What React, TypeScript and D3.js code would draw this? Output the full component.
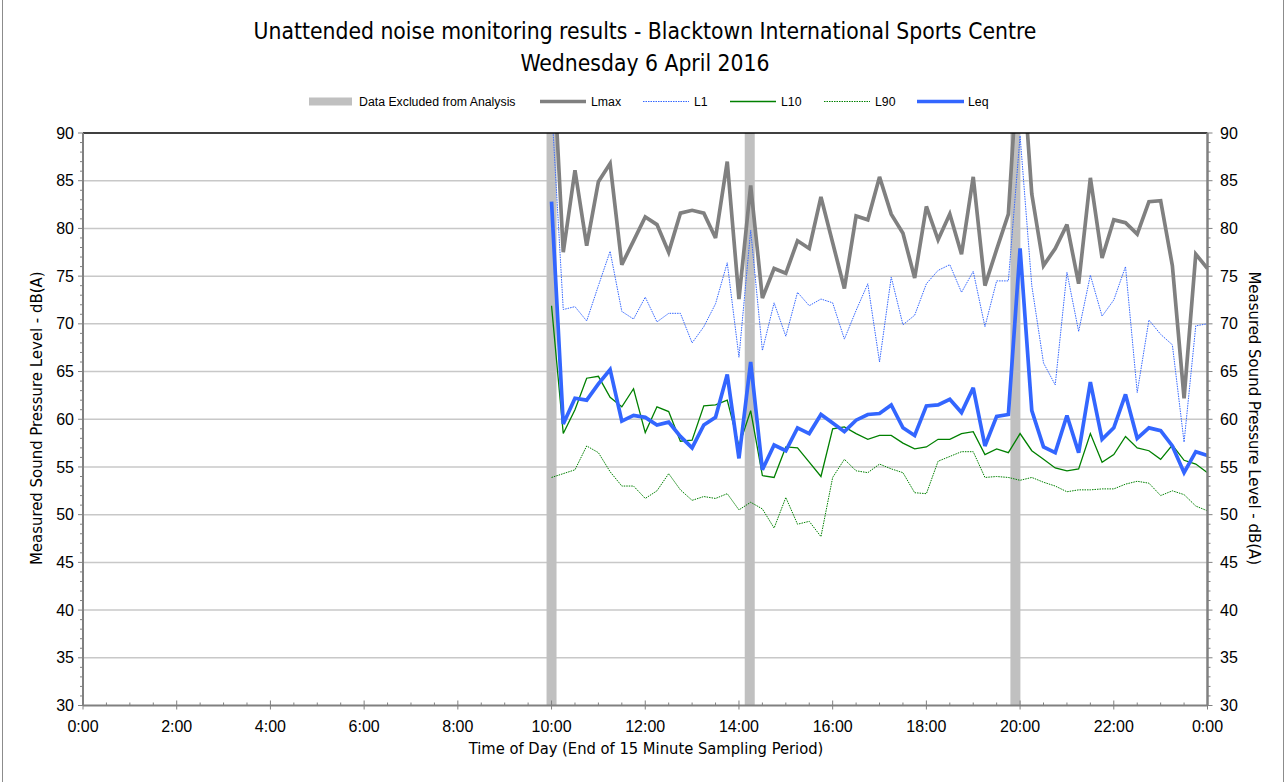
import React from "react";
import * as d3 from "d3";

const startHour = 10;
const stepHours = 0.25;

const lmax = [101, 77.5, 86.1, 78.2, 84.9, 86.8, 76.2, 78.7, 81.2, 80.4, 77.5, 81.6, 81.9, 81.6, 79.0, 87.0, 72.6, 84.5, 72.7, 75.8, 75.3, 78.7, 77.9, 83.3, 78.5, 73.7, 81.3, 80.9, 85.4, 81.5, 79.5, 74.8, 82.3, 78.8, 81.5, 77.3, 85.4, 74.0, 77.8, 81.5, 101, 83.6, 76.1, 77.9, 80.4, 74.2, 85.3, 76.9, 80.9, 80.6, 79.4, 82.8, 82.9, 76.1, 62.2, 77.3, 75.8];
const l1 = [93, 71.5, 71.8, 70.3, 74.0, 77.6, 71.3, 70.5, 72.8, 70.2, 71.1, 71.1, 68.0, 69.7, 72.1, 76.4, 66.5, 79.8, 67.2, 72.2, 68.7, 73.3, 71.9, 72.6, 72.2, 68.4, 71.4, 74.2, 66.0, 74.9, 69.9, 70.9, 74.2, 75.6, 76.2, 73.3, 75.5, 69.7, 74.5, 74.5, 89.7, 74.0, 65.9, 63.6, 75.4, 69.2, 75.1, 70.8, 72.5, 76.0, 62.8, 70.4, 68.9, 67.8, 57.6, 69.8, 70.0];
const l10 = [71.9, 58.5, 61.0, 64.3, 64.5, 62.3, 61.3, 63.2, 58.6, 61.3, 60.8, 57.7, 57.8, 61.4, 61.5, 62.0, 57.2, 60.9, 54.1, 53.9, 57.1, 57.0, 55.5, 54.0, 59.0, 59.2, 58.5, 57.9, 58.3, 58.3, 57.5, 56.9, 57.1, 57.9, 57.9, 58.5, 58.7, 56.3, 56.9, 56.5, 58.5, 56.7, 55.8, 54.9, 54.6, 54.8, 58.5, 55.5, 56.3, 58.2, 57.0, 56.7, 55.8, 57.3, 55.7, 55.3, 54.4];
const l90 = [53.9, 54.3, 54.7, 57.2, 56.5, 54.5, 53.0, 53.0, 51.7, 52.5, 54.3, 52.6, 51.5, 51.9, 51.7, 52.2, 50.5, 51.3, 50.6, 48.6, 51.8, 49.0, 49.3, 47.7, 53.9, 55.8, 54.6, 54.4, 55.3, 54.8, 54.4, 52.3, 52.2, 55.6, 56.1, 56.6, 56.6, 53.9, 54.0, 53.9, 53.6, 53.9, 53.4, 53.0, 52.4, 52.6, 52.6, 52.7, 52.7, 53.2, 53.5, 53.3, 52.0, 52.5, 52.1, 50.9, 50.4];
const leq = [82.8, 59.5, 62.2, 62.0, 63.7, 65.2, 59.8, 60.4, 60.2, 59.4, 59.7, 58.2, 57.0, 59.4, 60.2, 64.7, 55.9, 66.0, 54.7, 57.3, 56.7, 59.1, 58.5, 60.5, 59.6, 58.7, 59.9, 60.5, 60.6, 61.5, 59.1, 58.3, 61.4, 61.5, 62.1, 60.7, 63.3, 57.2, 60.3, 60.5, 77.9, 60.9, 57.1, 56.5, 60.4, 56.5, 63.9, 57.9, 59.1, 62.6, 58.0, 59.1, 58.8, 57.2, 54.4, 56.6, 56.2];

const excludedHours = [10.0, 14.23, 19.9];

const xTickHours = [0, 2, 4, 6, 8, 10, 12, 14, 16, 18, 20, 22, 24];
const xTickLabels = ["0:00", "2:00", "4:00", "6:00", "8:00", "10:00", "12:00", "14:00", "16:00", "18:00", "20:00", "22:00", "0:00"];
const yTicks = [30, 35, 40, 45, 50, 55, 60, 65, 70, 75, 80, 85, 90];

const titleLines = [
  "Unattended noise monitoring results - Blacktown International Sports Centre",
  "Wednesday 6 April 2016",
];
const yTitle = "Measured Sound Pressure Level - dB(A)";
const xTitle = "Time of Day (End of 15 Minute Sampling Period)";

const seriesDefs = [
  { name: "Lmax", data: lmax, color: "#808080", width: 3.7, dash: "" },
  { name: "L1", data: l1, color: "#3366ff", width: 1, dash: "1.5,1" },
  { name: "L10", data: l10, color: "#008000", width: 1.3, dash: "" },
  { name: "L90", data: l90, color: "#008000", width: 1, dash: "1.5,1" },
  { name: "Leq", data: leq, color: "#3366ff", width: 3.7, dash: "" },
];

export default function App() {
  const W = 1288, H = 782;
  const left = 83, right = 1207.5, top = 133, bottom = 705.5;
  const x = d3.scaleLinear().domain([0, 24]).range([left, right]);
  const y = d3.scaleLinear().domain([30, 90]).range([bottom, top]);
  const line = d3.line<number>()
    .x((_, i) => x(startHour + i * stepHours))
    .y((d) => y(d));

  const minorY = d3.range(30, 91, 1);
  const minorX = d3.range(0, 24.01, 0.5);
  const axisColor = "#808080";
  const sans = "'Liberation Sans', Arial, sans-serif";
  const tahoma = "'DejaVu Sans Condensed', 'DejaVu Sans', sans-serif";

  const legendItems = [
    { label: "Data Excluded from Analysis", kind: "bar", x0: 309, x1: 352, tx: 359 },
    { label: "Lmax", kind: "s0", x0: 540, x1: 586, tx: 591 },
    { label: "L1", kind: "s1", x0: 643, x1: 689, tx: 694 },
    { label: "L10", kind: "s2", x0: 730, x1: 776, tx: 781 },
    { label: "L90", kind: "s3", x0: 824, x1: 870, tx: 875 },
    { label: "Leq", kind: "s4", x0: 917, x1: 964, tx: 968 },
  ];
  const ly = 101.5;

  return (
    <svg width={W} height={H} style={{ position: "absolute", left: 0, top: 0, background: "#fff" }}>
      <defs>
        <clipPath id="plotclip">
          <rect x={left} y={top} width={right - left} height={bottom - top} />
        </clipPath>
      </defs>
      <rect x={0} y={0} width={W} height={H} fill="#fff" />
      <rect x={2.5} y={-2} width={1281} height={H + 10} fill="none" stroke="#8c8c8c" strokeWidth={1} />

      {/* titles */}
      {titleLines.map((t, i) => (
        <text key={i} x={645} y={39 + i * 31.5} textAnchor="middle" fontFamily={tahoma} fontSize={22.7} fill="#000">{t}</text>
      ))}

      {/* legend */}
      {legendItems.map((it, i) => {
        const s = it.kind === "bar" ? null : seriesDefs[+it.kind.slice(1)];
        return (
          <g key={i}>
            {it.kind === "bar" ? (
              <rect x={it.x0} y={ly - 4} width={it.x1 - it.x0} height={8} fill="#c0c0c0" />
            ) : (
              <line x1={it.x0} x2={it.x1} y1={ly} y2={ly} stroke={s!.color} strokeWidth={s!.width} strokeDasharray={s!.dash || undefined} />
            )}
            <text x={it.tx} y={ly + 4.3} fontFamily={sans} fontSize={12.3} fill="#000">{it.label}</text>
          </g>
        );
      })}

      {/* gridlines */}
      {yTicks.filter((v) => v > 30 && v < 90).map((v) => (
        <line key={v} x1={left} x2={right} y1={y(v)} y2={y(v)} stroke="#c8c8c8" strokeWidth={1.5} />
      ))}

      {/* excluded bars */}
      {excludedHours.map((h, i) => (
        <rect key={i} x={x(h) - 5} y={top} width={10} height={bottom - top} fill="#c0c0c0" />
      ))}

      {/* series */}
      <g clipPath="url(#plotclip)">
        {seriesDefs.map((s) => (
          <path key={s.name} d={line(s.data) || ""} fill="none" stroke={s.color} strokeWidth={s.width}
            strokeDasharray={s.dash || undefined} strokeLinejoin="miter" strokeMiterlimit={3} />
        ))}
      </g>

      {/* top border */}
      <line x1={left} x2={right} y1={top} y2={top} stroke="#000" strokeWidth={1.5} />

      {/* left axis */}
      <line x1={left} x2={left} y1={top} y2={bottom} stroke={axisColor} strokeWidth={2} />
      {minorY.map((v) => (
        <line key={"lm" + v} x1={left - (v % 5 === 0 ? 5 : 3)} x2={left} y1={y(v)} y2={y(v)} stroke={axisColor} strokeWidth={1} />
      ))}
      {yTicks.map((v) => (
        <text key={"lt" + v} x={74} y={y(v) + 5.6} textAnchor="end" fontFamily={sans} fontSize={16} fill="#000">{v}</text>
      ))}

      {/* right axis */}
      <line x1={right} x2={right} y1={top} y2={bottom} stroke={axisColor} strokeWidth={2.5} />
      {minorY.map((v) => (
        <line key={"rm" + v} x1={right} x2={right + (v % 5 === 0 ? 5 : 3)} y1={y(v)} y2={y(v)} stroke={axisColor} strokeWidth={1} />
      ))}
      {yTicks.map((v) => (
        <text key={"rt" + v} x={1220} y={y(v) + 5.6} textAnchor="start" fontFamily={sans} fontSize={16} fill="#000">{v}</text>
      ))}

      {/* bottom axis */}
      <line x1={left} x2={right} y1={bottom} y2={bottom} stroke={axisColor} strokeWidth={2} />
      {minorX.map((h) => {
        const major = Math.abs(h % 2) < 1e-6;
        return (
          <line key={"bm" + h} x1={x(h)} x2={x(h)} y1={bottom - (major ? 5 : 3)} y2={bottom + (major ? 4 : 0)} stroke={axisColor} strokeWidth={1} />
        );
      })}
      {xTickHours.map((h, i) => (
        <text key={"bt" + i} x={x(h)} y={732} textAnchor="middle" fontFamily={sans} fontSize={16} fill="#000">{xTickLabels[i]}</text>
      ))}

      {/* axis titles */}
      <text transform={`translate(42,${(top + bottom) / 2 - 1}) rotate(-90)`} textAnchor="middle" fontFamily={tahoma} fontSize={16.6} fill="#000">{yTitle}</text>
      <text transform={`translate(1249,${(top + bottom) / 2 - 1}) rotate(90)`} textAnchor="middle" fontFamily={tahoma} fontSize={16.6} fill="#000">{yTitle}</text>
      <text x={646} y={754} textAnchor="middle" fontFamily={tahoma} fontSize={16.4} fill="#000">{xTitle}</text>
    </svg>
  );
}
